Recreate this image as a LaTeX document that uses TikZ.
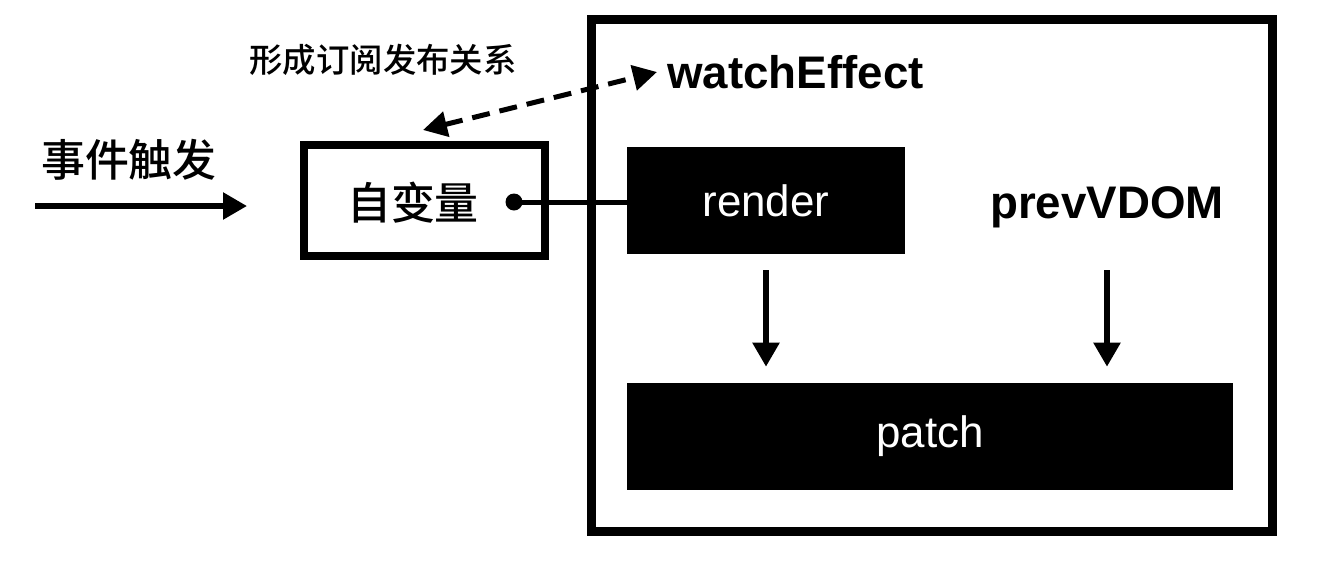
\documentclass[tikz,border=0pt]{standalone}
\usepackage{fontspec}
\setmainfont{Liberation Sans}
\newfontfamily\cjk{Noto Sans CJK SC Medium}
\usetikzlibrary{arrows.meta, positioning}

\begin{document}
\begin{tikzpicture}[
  x=0.02cm, y=-0.02cm, % 1 unit = 1 px of the sketch
  frame/.style={draw, line width=0.18cm, minimum width=13.64cm, minimum height=10.26cm, inner sep=0pt},
  varbox/.style={draw, line width=0.16cm, minimum width=4.82cm, minimum height=2.22cm, inner sep=0pt},
  blk/.style={fill=black, text=white, inner sep=0pt, minimum height=2.14cm, font=\fontsize{25}{30}\selectfont},
  lbl/.style={inner sep=0.2cm, font=\bfseries\fontsize{26}{31}\selectfont},
  zh/.style={inner sep=0pt, font=\cjk\fontsize{25}{30}\selectfont},
  arr/.style={-{Triangle[length=0.48cm, width=0.52cm]}, line width=0.11cm},
  dbl/.style={{Triangle[length=0.48cm, width=0.5cm]}-{Triangle[length=0.48cm, width=0.5cm]}, line width=0.1cm, dash pattern=on 0.36cm off 0.2cm}
]
\useasboundingbox (0,0) rectangle (1340,562);

% effect frame
\node[frame] (frame) at (932,275.5) {};
\node[lbl, anchor=west] (watch) at (657,72) {watchEffect};
\node[blk, minimum width=5.56cm] (render) at (766,200.5) {render};
\node[lbl, minimum height=2.14cm, inner sep=0pt] (prev) at (1107,207) {prevVDOM};
\node[blk, minimum width=12.12cm] (patch) at (930,436.5) {patch};
\draw[arr, shorten <=0.32cm, shorten >=0.32cm] (render.south) -- (render.south |- patch.north);
\draw[arr, shorten <=0.19cm, shorten >=0.32cm] (prev.south) -- (prev.south |- patch.north);

% variable
\node[varbox] (var) at (424.5,200.5) {};
\node[zh] (varlbl) at (413,203) {自变量};
\node[circle, fill, inner sep=0pt, minimum size=0.34cm] (dot) at (514,202) {};
\draw[line width=0.1cm] (dot.center) -- (render.west |- dot);

% subscribe
\node[zh, font=\cjk\fontsize{19}{23}\selectfont] (sublbl) at (383,60) {形成订阅发布关系};
\coordinate (sub) at (423,130);
\draw[dbl] (sub) -- (watch.west);

% trigger
\node[zh] (trig) at (129,160) {事件触发};
\coordinate (trig-s) at (35,206);
\coordinate (trig-e) at (247,206);
\draw[arr] (trig-s) -- (trig-e);

\end{tikzpicture}
\end{document}
